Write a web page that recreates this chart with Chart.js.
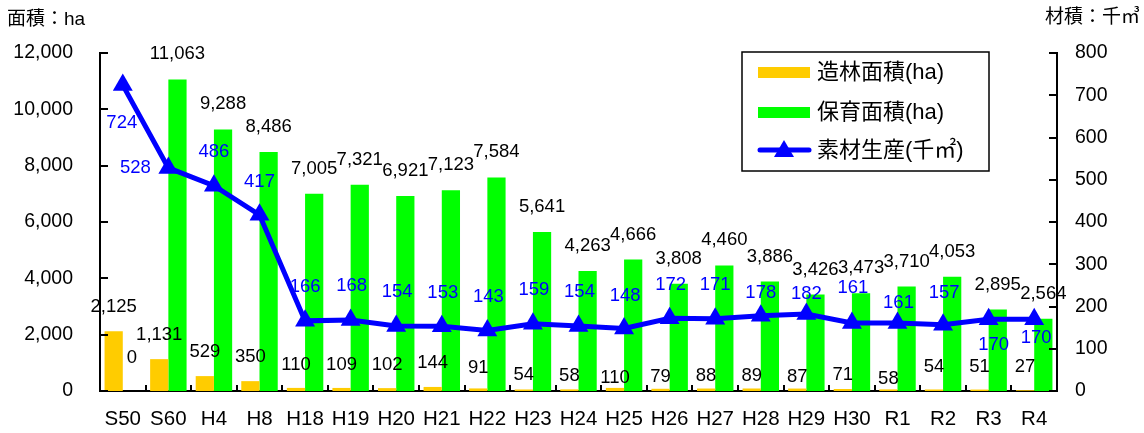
<!DOCTYPE html>
<html>
<head>
<meta charset="utf-8">
<script src="https://cdn.jsdelivr.net/npm/chart.js@4/dist/chart.umd.min.js"></script>
<style>
html,body{margin:0;padding:0;background:#fff;}
#wrap{width:1144px;height:433px;}
</style>
</head>
<body>
<div id="wrap"><canvas id="c" width="1144" height="433"></canvas></div>
<script>
// ---- data ----
const categories = ["S50","S60","H4","H8","H18","H19","H20","H21","H22","H23","H24","H25","H26","H27","H28","H29","H30","R1","R2","R3","R4"];
const zorinArea = [2125,1131,529,350,110,109,102,144,91,54,58,110,79,88,89,87,71,58,54,51,27];
const hoikuArea = [0,11063,9288,8486,7005,7321,6921,7123,7584,5641,4263,4666,3808,4460,3886,3426,3473,3710,4053,2895,2564];
const sozaiVolume = [724,528,486,417,166,168,154,153,143,159,154,148,172,171,178,182,161,161,157,170,170];
const areaTicks = [0,2000,4000,6000,8000,10000,12000];
const volumeTicks = [0,100,200,300,400,500,600,700,800];
const seriesNames = ["造林面積(ha)","保育面積(ha)","素材生産(千㎡)"];
const leftTitle = "面積：ha";
const rightTitle = "材積：千㎥";

// ---- label placement (layout only) ----
const zorinLabelDy = [-24,-24,-24,-24,-23,-23,-23,-24,-21,-15,-13,-10,-12,-13,-13,-12,-14,-10,-23,-23,-23];
const lineLabelOffsets = [[-1,38],[-33,0],[0,-34],[0,-33],[0,-34],[1,-34],[1,-34],[1,-33],[1,-34],[1,-34],[1,-34],[1,-33],[1,-33],[0,-34],[0,-23],[0,-20],[1,-35],[1,-20],[1,-32],[5,26],[2,19]];

const FONT = "'Liberation Sans','Noto Sans CJK JP',sans-serif";
const fmt = v => v.toLocaleString('en-US');

const decorPlugin = {
  id: 'decor',
  afterDatasetsDraw(chart) {
    const ctx = chart.ctx;
    ctx.save();
    ctx.font = "18.5px " + FONT;
    ctx.textAlign = 'center';
    ctx.textBaseline = 'middle';
    const m0 = chart.getDatasetMeta(0), m1 = chart.getDatasetMeta(1), m2 = chart.getDatasetMeta(2);
    ctx.fillStyle = '#000';
    m0.data.forEach((el, i) => {
      ctx.fillText(fmt(zorinArea[i]), el.x, el.y + zorinLabelDy[i]);
    });
    m1.data.forEach((el, i) => {
      const dy = hoikuArea[i] === 0 ? -33 : -25;
      ctx.fillText(fmt(hoikuArea[i]), el.x, el.y + dy);
    });
    ctx.fillStyle = '#0000FF';
    m2.data.forEach((el, i) => {
      const o = lineLabelOffsets[i];
      ctx.fillText(fmt(sozaiVolume[i]), el.x + o[0], el.y + o[1]);
    });
    ctx.restore();
  },
  afterDraw(chart) {
    const ctx = chart.ctx;
    const ca = chart.chartArea;
    const ys = chart.scales.y, y2 = chart.scales.y2, xs = chart.scales.x;
    ctx.save();
    ctx.strokeStyle = '#000';
    ctx.lineWidth = 2;
    ctx.beginPath();
    ys.ticks.forEach(t => {
      const p = Math.round(ys.getPixelForValue(t.value));
      ctx.moveTo(ca.left, p); ctx.lineTo(ca.left + 8, p);
    });
    y2.ticks.forEach(t => {
      const p = Math.round(y2.getPixelForValue(t.value));
      ctx.moveTo(ca.right, p); ctx.lineTo(ca.right - 8, p);
    });
    const n = categories.length;
    for (let i = 1; i < n; i++) {
      const p = Math.round((xs.getPixelForValue(i - 1) + xs.getPixelForValue(i)) / 2);
      ctx.moveTo(p, ca.bottom); ctx.lineTo(p, ca.bottom - 6);
    }
    ctx.stroke();

    // axis titles
    ctx.fillStyle = '#000';
    ctx.font = "19px " + FONT;
    ctx.textBaseline = 'middle';
    ctx.textAlign = 'left';
    ctx.fillText(leftTitle, 7, 20);
    ctx.textAlign = 'right';
    ctx.fillText(rightTitle, 1140, 18);

    // legend
    const lx = 742, ly = 52, lw = 247, lh = 119;
    ctx.fillStyle = '#fff';
    ctx.fillRect(lx, ly, lw, lh);
    ctx.lineWidth = 1.5;
    ctx.strokeStyle = '#000';
    ctx.strokeRect(lx, ly, lw, lh);
    const rows = [72, 112, 150];
    ctx.fillStyle = '#FFCC00';
    ctx.fillRect(758, rows[0] - 5, 52, 11);
    ctx.fillStyle = '#00FF00';
    ctx.fillRect(758, rows[1] - 5, 52, 11);
    ctx.strokeStyle = '#0000FF';
    ctx.lineWidth = 5;
    ctx.lineCap = 'round';
    ctx.beginPath(); ctx.moveTo(760, rows[2]); ctx.lineTo(809, rows[2]); ctx.stroke();
    ctx.fillStyle = '#0000FF';
    ctx.beginPath();
    ctx.moveTo(784, rows[2] - 10); ctx.lineTo(794, rows[2] + 7); ctx.lineTo(774, rows[2] + 7); ctx.closePath(); ctx.fill();
    ctx.fillStyle = '#000';
    ctx.font = "22px " + FONT;
    ctx.textAlign = 'left';
    rows.forEach((r, i) => ctx.fillText(seriesNames[i], 817, r + 1));
    ctx.restore();
  }
};

new Chart(document.getElementById('c'), {
  data: {
    labels: categories,
    datasets: [
      { type: 'bar', label: seriesNames[0], data: zorinArea, backgroundColor: '#FFCC00', yAxisID: 'y', order: 1, categoryPercentage: 0.8, barPercentage: 1.0 },
      { type: 'bar', label: seriesNames[1], data: hoikuArea, backgroundColor: '#00FF00', yAxisID: 'y', order: 1, categoryPercentage: 0.8, barPercentage: 1.0 },
      { type: 'line', label: seriesNames[2], data: sozaiVolume, borderColor: '#0000FF', backgroundColor: '#0000FF', borderWidth: 5, pointStyle: 'triangle', pointRadius: 11.5, pointHoverRadius: 11.5, pointBorderWidth: 0, yAxisID: 'y2', order: 0, tension: 0 }
    ]
  },
  options: {
    responsive: false,
    animation: false,
    events: [],
    layout: { padding: { top: 53, left: 0, right: 0, bottom: 0 } },
    plugins: { legend: { display: false }, tooltip: { enabled: false } },
    scales: {
      x: {
        offset: true,
        grid: { display: false, drawTicks: false },
        border: { display: true, color: '#000', width: 2 },
        ticks: { color: '#000', font: { family: FONT, size: 20.5 }, padding: 16, maxRotation: 0, autoSkip: false },
        afterFit(s) { s.height = 42; }
      },
      y: {
        position: 'left',
        min: 0, max: 12000,
        grid: { display: false, drawTicks: false },
        border: { display: true, color: '#000', width: 2 },
        afterBuildTicks(s) { s.ticks = areaTicks.map(v => ({ value: v })); },
        ticks: { color: '#000', font: { family: FONT, size: 19.5 }, padding: 27, callback: v => fmt(v) },
        afterFit(s) { s.width = 100; }
      },
      y2: {
        position: 'right',
        min: 0, max: 800,
        grid: { display: false, drawTicks: false },
        border: { display: true, color: '#000', width: 2 },
        afterBuildTicks(s) { s.ticks = volumeTicks.map(v => ({ value: v })); },
        ticks: { color: '#000', font: { family: FONT, size: 19.5 }, padding: 18, callback: v => String(v) },
        afterFit(s) { s.width = 87; }
      }
    }
  },
  plugins: [decorPlugin]
});
</script>
</body>
</html>
